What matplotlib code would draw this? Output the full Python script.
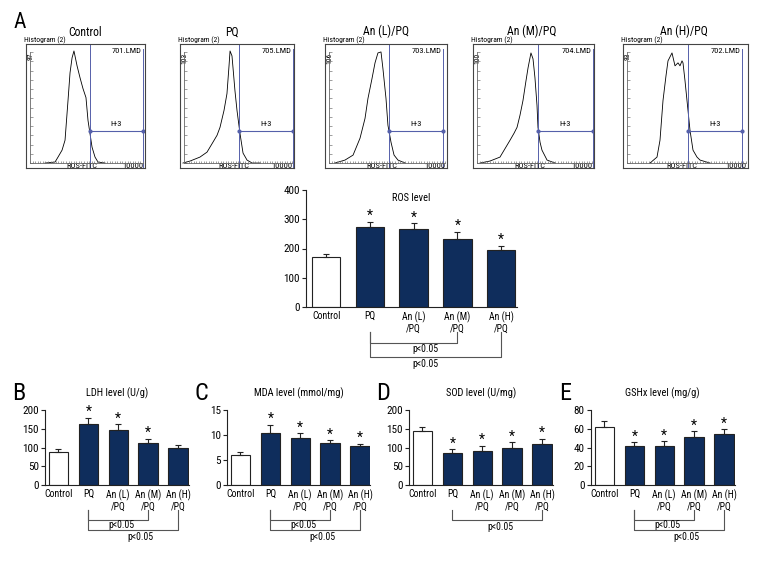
import numpy as np
import matplotlib
matplotlib.use('Agg')
import matplotlib.pyplot as plt
from matplotlib import font_manager as fm

# pick a condensed face if one is installed (the original uses a narrow font)
names = {f.name for f in fm.fontManager.ttflist}
narrow = None
for cand in ['Liberation Sans Narrow', 'Roboto Condensed', 'Open Sans Condensed',
             'Noto Sans Condensed', 'DejaVu Sans Condensed']:
    if cand in names:
        narrow = cand
        break
if narrow:
    plt.rcParams['font.family'] = [narrow, 'DejaVu Sans']
else:
    cond = [f.name for f in fm.fontManager.ttflist if 'condensed' in str(f.stretch)]
    if cond:
        plt.rcParams['font.family'] = [cond[0], 'DejaVu Sans']
        plt.rcParams['font.stretch'] = 'condensed'
    else:
        plt.rcParams['font.family'] = ['DejaVu Sans']

# data
groups = ['Control', 'PQ', 'An (L)\n/PQ', 'An (M)\n/PQ', 'An (H)\n/PQ']
hist_names = ['Control', 'PQ', 'An (L)/PQ', 'An (M)/PQ', 'An (H)/PQ']
hist_files = ['701.LMD', '705.LMD', '703.LMD', '704.LMD', '702.LMD']
hist_ymax = ['97', '103', '106', '100', '93']

# histogram traces, as fractions of the plot box (channel, count)
ctrl_x = [0.16, 0.244, 0.269, 0.303, 0.328, 0.353, 0.37, 0.387, 0.403, 0.429, 0.454, 0.479, 0.504, 0.521, 0.555, 0.58, 0.605, 0.664]
ctrl_y = [0.04, 0.048, 0.088, 0.144, 0.224, 0.544, 0.768, 0.888, 0.944, 0.824, 0.728, 0.64, 0.568, 0.384, 0.168, 0.088, 0.048, 0.04]
pq_x = [0.026, 0.088, 0.175, 0.237, 0.289, 0.325, 0.351, 0.386, 0.412, 0.43, 0.439, 0.456, 0.465, 0.482, 0.5, 0.526, 0.553, 0.588, 0.632, 0.702]
pq_y = [0.04, 0.056, 0.088, 0.128, 0.208, 0.264, 0.328, 0.464, 0.6, 0.824, 0.944, 0.904, 0.808, 0.624, 0.464, 0.28, 0.12, 0.064, 0.04, 0.04]
anl_x = [0.082, 0.164, 0.23, 0.287, 0.328, 0.352, 0.385, 0.41, 0.434, 0.459, 0.475, 0.5, 0.516, 0.541, 0.566, 0.598, 0.656]
anl_y = [0.04, 0.064, 0.104, 0.24, 0.4, 0.56, 0.72, 0.848, 0.928, 0.936, 0.8, 0.56, 0.344, 0.208, 0.104, 0.064, 0.04]
anm_x = [0.058, 0.14, 0.223, 0.306, 0.339, 0.364, 0.388, 0.413, 0.438, 0.455, 0.479, 0.496, 0.512, 0.529, 0.537, 0.554, 0.57, 0.612, 0.678]
anm_y = [0.04, 0.056, 0.088, 0.224, 0.28, 0.328, 0.424, 0.544, 0.704, 0.808, 0.928, 0.88, 0.728, 0.504, 0.328, 0.208, 0.144, 0.064, 0.04]
anh_x = [0.216, 0.272, 0.296, 0.32, 0.344, 0.36, 0.392, 0.416, 0.44, 0.456, 0.472, 0.48, 0.496, 0.512, 0.536, 0.56, 0.592, 0.616, 0.696]
anh_y = [0.04, 0.088, 0.224, 0.544, 0.744, 0.864, 0.928, 0.824, 0.848, 0.824, 0.864, 0.848, 0.704, 0.544, 0.304, 0.144, 0.088, 0.064, 0.04]
hist_x = [ctrl_x, pq_x, anl_x, anm_x, anh_x]
hist_y = [ctrl_y, pq_y, anl_y, anm_y, anh_y]
gate_lo = [0.538, 0.518, 0.525, 0.537, 0.52]
gate_hi = [0.983, 0.991, 0.967, 0.992, 0.952]

ros_mean = [170, 272, 267, 231, 195]
ros_err = [10, 20, 19, 27, 15]
ldh_mean = [87, 163, 148, 113, 99]
ldh_err = [9, 17, 14, 11, 7]
mda_mean = [6.1, 10.5, 9.5, 8.5, 7.8]
mda_err = [0.5, 1.6, 0.9, 0.5, 0.5]
sod_mean = [145, 86, 90, 99, 110]
sod_err = [11, 9, 15, 15, 13]
gsh_mean = [62, 41.6, 41.6, 50.9, 54.4]
gsh_err = [6.5, 3.9, 5.4, 6.7, 5.4]

W, H = 774, 570
navy = '#0f2d5c'
dark = '#222222'
gate_c = '#5560aa'
br_c = '#555555'

fig = plt.figure(figsize=(W / 100, H / 100), dpi=100)


def px_axes(l, t, r, b):
    return fig.add_axes([l / W, 1 - b / H, (r - l) / W, (b - t) / H])


def fig_text(x, y, s, **kw):
    fig.text(x / W, 1 - y / H, s, **kw)


# ---- A: histograms
boxes = [(26, 145), (180, 294), (325, 447), (473, 594), (623, 748)]
title_x = [85, 232, 386, 532, 684]
for k, (l, r) in enumerate(boxes):
    ax = px_axes(l, 44, r, 168)
    ax.set_xlim(0, 1)
    ax.set_ylim(0, 1)
    ax.set_xticks([])
    ax.set_yticks([])
    for s in ax.spines.values():
        s.set_color('#444444')
        s.set_linewidth(0.8)
    # inner axis
    ai = px_axes(l + 4, 52, r - 2, 163)
    ai.patch.set_alpha(0)
    ai.set_xlim(0, 1)
    ai.set_ylim(0, 1)
    ai.spines['top'].set_visible(False)
    ai.spines['right'].set_visible(False)
    for s in ai.spines.values():
        s.set_color('#666666')
        s.set_linewidth(0.6)
    ai.set_yticks(np.linspace(0, 1, 13))
    ai.set_xticks(np.linspace(0, 1, 45))
    ai.tick_params(direction='in', length=2, width=0.5, color='#777777',
                   labelleft=False, labelbottom=False)
    ai.tick_params(axis='x', length=1.2)

    ax.plot(hist_x[k], hist_y[k], color='black', lw=0.6)
    g0, g1 = gate_lo[k], gate_hi[k]
    ax.plot([g0, g0], [0.0, 1.0], color=gate_c, lw=0.7)
    ax.plot([g1, g1], [0.0, 0.96], color=gate_c, lw=0.7)
    ax.plot([g0, g1], [0.296, 0.296], color=gate_c, lw=0.8, marker='o', ms=2)
    ax.text((g0 + g1) / 2, 0.33, 'H-3', ha='center', va='bottom', fontsize=6)
    ax.text(g1 - 0.01, 0.965, hist_files[k], ha='right', va='top', fontsize=6)
    ax.text(0.47, -0.005, 'ROS-FITC', ha='center', va='bottom', fontsize=6)
    ax.text(0.985, -0.005, '10000', ha='right', va='bottom', fontsize=6)
    ax.text(0.012, 0.93, hist_ymax[k], ha='left', va='top', rotation=90, fontsize=5.5)
    fig_text(l - 2, 43.5, 'Histogram (2)', ha='left', va='bottom', fontsize=5.5)
    fig_text(title_x[k], 35.5, hist_names[k], ha='center', va='baseline', fontsize=8.5)

fig_text(20, 23, 'A', ha='center', va='center', fontsize=15.5)


# ---- bar panels
def bar_panel(ax, mean, err, stars, ymax, yticks, title, title_y, xlim):
    x = np.arange(len(groups))
    colors = ['white'] + [navy] * 4
    ax.bar(x, mean, width=0.65, color=colors, edgecolor=dark, lw=0.8, zorder=2)
    ax.errorbar(x, mean, yerr=[np.zeros(len(mean)), err], fmt='none', ecolor=dark,
                elinewidth=0.8, capsize=2, capthick=0.8, zorder=3)
    for i in stars:
        ax.annotate('*', (i, mean[i] + err[i]), xytext=(0, 4), textcoords='offset points',
                    ha='center', va='center', fontsize=10)
    ax.set_xlim(*xlim)
    ax.set_ylim(0, ymax)
    ax.set_yticks(yticks)
    ax.set_xticks(x)
    ax.set_xticklabels(groups, fontsize=7, linespacing=1.1)
    ax.tick_params(axis='x', length=0, pad=3)
    ax.tick_params(axis='y', length=3, width=0.8, labelsize=8, pad=1.5, color=dark)
    ax.spines['top'].set_visible(False)
    ax.spines['right'].set_visible(False)
    for s in ('left', 'bottom'):
        ax.spines[s].set_color(dark)
        ax.spines[s].set_linewidth(0.8)
    ax.text(0.5, title_y, title, transform=ax.transAxes, ha='center', va='center', fontsize=7.5)


def bracket(ax, h_px, i0, i1, y_top, y_line, lab_x, lab_y):
    tr = ax.get_xaxis_transform()
    f = lambda p: -p / h_px
    ax.plot([i0, i0, i1, i1], [f(y_top), f(y_line), f(y_line), f(y_top)],
            transform=tr, clip_on=False, color=br_c, lw=0.8)
    ax.text(lab_x, f(lab_y), 'p<0.05', transform=tr, ha='center', va='center', fontsize=7)


# ROS
ax = px_axes(306, 190, 517, 307)
bar_panel(ax, ros_mean, ros_err, [1, 2, 3, 4], 400, [0, 100, 200, 300, 400],
          'ROS level', 0.93, (-0.46, 4.36))
bracket(ax, 117, 1, 3, 25, 36, 2.26, 42)
bracket(ax, 117, 1, 4, 25, 50, 2.26, 57)

# B-E
panels = [
    ('B', 45, ldh_mean, ldh_err, [1, 2, 3], 200, [0, 50, 100, 150, 200], 'LDH level (U/g)', 2),
    ('C', 227, mda_mean, mda_err, [1, 2, 3, 4], 15, [0, 5, 10, 15], 'MDA level (mmol/mg)', 2),
    ('D', 409, sod_mean, sod_err, [1, 2, 3, 4], 200, [0, 50, 100, 150, 200], 'SOD level (U/mg)', 1),
    ('E', 591, gsh_mean, gsh_err, [1, 2, 3, 4], 80, [0, 20, 40, 60, 80], 'GSHx level (mg/g)', 2),
]
for letter, left, mean, err, stars, ymax, yt, title, nbr in panels:
    ax = px_axes(left, 410, left + 143.5, 485)
    bar_panel(ax, mean, err, stars, ymax, yt, title, 1.23, (-0.45, 4.35))
    if nbr == 2:
        bracket(ax, 75, 1, 3, 25, 35, 2.1, 40.5)
        bracket(ax, 75, 1, 4, 25, 45, 2.75, 52.5)
    else:
        bracket(ax, 75, 1, 4, 25, 35, 2.6, 42)
    fig_text(left - 26, 393, letter, ha='center', va='center', fontsize=17.5)

plt.savefig('out.png', dpi=100)
